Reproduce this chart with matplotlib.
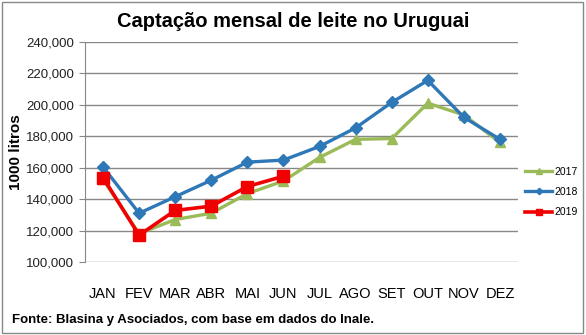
import matplotlib.pyplot as plt
from matplotlib.ticker import FuncFormatter

meses = ["JAN", "FEV", "MAR", "ABR", "MAI", "JUN", "JUL", "AGO", "SET", "OUT", "NOV", "DEZ"]
v2017 = [152500, 118000, 127000, 131000, 143500, 151500, 166500, 178000, 178500, 201000, 193500, 176000]
v2018 = [160500, 131000, 141500, 152000, 163500, 164800, 173500, 185300, 201500, 215500, 192000, 178000]
v2019 = [153700, 117000, 132800, 135500, 148000, 154500]

plt.rcParams['font.family'] = ['Liberation Sans', 'DejaVu Sans']

fig = plt.figure(figsize=(5.86, 3.35), dpi=100)
ax = fig.add_axes([0.145, 0.218, 0.739, 0.657])

x = list(range(len(meses)))
ax.plot(x, v2017, '-^', color='#9BBB59', lw=2.4, ms=7, label='2017')
ax.plot(x, v2018, '-D', color='#2E78B7', lw=2.4, ms=6, label='2018')
ax.plot(x[:len(v2019)], v2019, '-s', color='#F00000', lw=2.6, ms=8, label='2019')

ax.set_xlim(-0.5, 11.5)
ax.set_ylim(100000, 240000)
ax.set_yticks(range(100000, 240001, 20000))
ax.yaxis.set_major_formatter(FuncFormatter(lambda v, p: f"{int(v):,}"))
ax.set_xticks(x)
ax.set_xticklabels(meses, fontsize=10.5)
ax.tick_params(axis='x', length=0, pad=18)
ax.tick_params(axis='y', length=4, color='#888888', labelsize=9.5, pad=4, labelcolor='#222222')
ax.grid(True, axis='y', color='#888888', lw=1)
for s in ['top', 'right', 'bottom']:
    ax.spines[s].set_visible(False)
ax.spines['left'].set_color('#888888')
ax.set_axisbelow(True)

ax.set_ylabel("1000 litros", fontsize=11, fontweight='bold', labelpad=2)
fig.text(0.5, 0.935, "Captação mensal de leite no Uruguai", ha='center', va='center',
         fontsize=14.5, fontweight='bold')
fig.text(0.02, 0.045, "Fonte: Blasina y Asociados, com base em dados do Inale.", ha='left',
         va='center', fontsize=9.5, fontweight='bold')

ax.legend(loc='center left', bbox_to_anchor=(1.0, 0.318), frameon=False, fontsize=7.5,
          handlelength=2.6, labelspacing=1.0, handletextpad=0.2, markerscale=0.55,
          borderaxespad=0.3)

fig.patches.append(plt.Rectangle((0.003, 0.005), 0.992, 0.99, transform=fig.transFigure,
                                 fill=False, edgecolor='#888888', lw=1))

fig.savefig("out.png", dpi=100)
